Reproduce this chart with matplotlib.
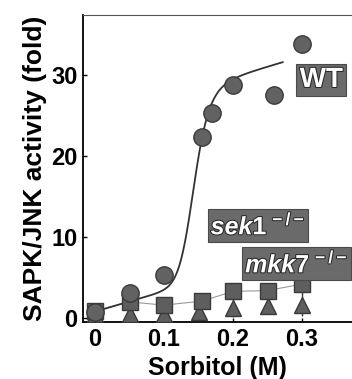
import numpy as np
import matplotlib.pyplot as plt
import matplotlib.patheffects as pe

plt.rcParams['font.family'] = ['Liberation Sans Narrow', 'Liberation Sans', 'DejaVu Sans']
plt.rcParams['font.weight'] = 'bold'
plt.rcParams['axes.labelweight'] = 'bold'
plt.rcParams['mathtext.fontset'] = 'custom'
plt.rcParams['mathtext.rm'] = 'Liberation Sans:bold'
plt.rcParams['mathtext.it'] = 'Liberation Sans:italic:bold'

# sorbitol concentration (M)
sorbitol = [0.0, 0.05, 0.10, 0.155, 0.17, 0.20, 0.26, 0.30]
wt_fold = [0.8, 3.1, 5.3, 22.4, 25.3, 28.8, 27.6, 33.9]

sek1_x = [0.0, 0.05, 0.10, 0.155, 0.20, 0.25, 0.30]
sek1_fold = [0.9, 2.0, 1.6, 2.1, 3.3, 3.4, 4.2]
sek1_err_low = [0, 0, 0, 0, 3.2, 0, 4.0]

mkk7_x = [0.0, 0.05, 0.10, 0.15, 0.20, 0.25, 0.30]
mkk7_fold = [0.5, 0.5, 0.5, 0.8, 1.2, 1.5, 1.6]

# fitted WT curve: linear baseline + Hill term
fit_base, fit_slope, fit_top, fit_K, fit_n = 0.8, 25.0, 24.0, 0.1435, 13.0

fig = plt.figure(figsize=(3.52, 3.79), dpi=100)
ax = fig.add_axes([0.236, 0.150, 0.764, 0.810])

xs = np.linspace(0.0, 0.272, 400)
ys = fit_base + fit_slope * xs + fit_top * xs**fit_n / (fit_K**fit_n + xs**fit_n)
ax.plot(xs, ys, color='#333333', lw=1.3, zorder=2)
ax.plot(sek1_x, sek1_fold, color='#9a9a9a', lw=0.8, zorder=1)

ax.errorbar(sek1_x, sek1_fold, yerr=[sek1_err_low, [0]*len(sek1_x)], fmt='none',
            ecolor='#333333', elinewidth=1.0, capsize=0, zorder=2)
ax.plot(mkk7_x, mkk7_fold, '^', ms=12, color='#5e5e5e', mec='#3a3a3a', zorder=3)
ax.plot(sek1_x, sek1_fold, 's', ms=11, color='#5e5e5e', mec='#3a3a3a', zorder=4)
ax.plot(sorbitol, wt_fold, 'o', ms=12.5, color='#626262', mec='#3a3a3a', zorder=5)

box = dict(boxstyle='square,pad=0.12', fc='#6a6a6a', ec='#4a4a4a', lw=0.8)
outline = [pe.withStroke(linewidth=1.5, foreground='#2a2a2a')]
ax.text(0.328, 29.4, 'WT', fontsize=20, color='white', ha='center', va='center',
        bbox=box, path_effects=outline, zorder=6)
ax.text(0.236, 11.4, r'$\mathit{sek1}^{\,-/-}$', fontsize=18, color='white',
        ha='center', va='center', bbox=box, path_effects=outline, zorder=6)
ax.text(0.292, 6.7, r'$\mathit{mkk7}^{\,-/-}$', fontsize=18, color='white',
        ha='center', va='center', bbox=box, path_effects=outline, zorder=6)

ax.set_xlim(-0.0174, 0.3725)
ax.set_ylim(-0.5, 37.4)
ax.set_xticks([0, 0.1, 0.2, 0.3])
ax.set_xticklabels(['0', '0.1', '0.2', '0.3'])
ax.set_yticks([0, 10, 20, 30])
ax.tick_params(direction='in', length=3, width=1, labelsize=17, pad=4)
ax.spines['right'].set_visible(False)
ax.spines['top'].set_color('#555555')
ax.spines['top'].set_linewidth(0.8)
ax.spines['left'].set_linewidth(1.3)
ax.spines['bottom'].set_linewidth(1.3)

ax.set_xlabel('Sorbitol (M)', fontsize=18, labelpad=4)
ax.set_ylabel('SAPK/JNK activity (fold)', fontsize=19, labelpad=3)

plt.savefig('out.png', dpi=100)
